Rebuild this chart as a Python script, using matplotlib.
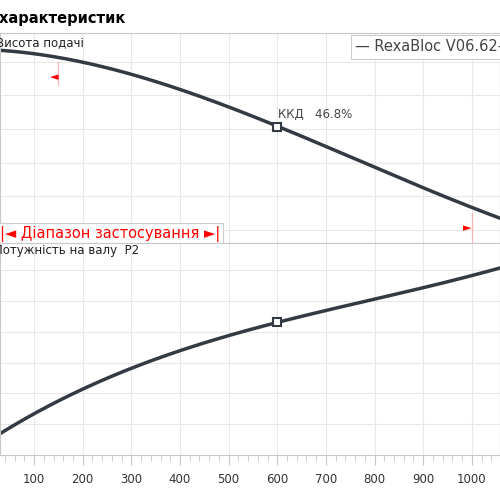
import numpy as np
import matplotlib.pyplot as plt

# flow (m3/h) and read-off curve values (grid units)
flow_h = [30, 133, 236, 338, 441, 600, 784, 920, 1058]
head = [6.36, 6.15, 5.85, 5.52, 4.96, 4.07, 3.00, 2.10, 1.36]
flow_p = [30, 133, 236, 338, 441, 600, 714, 920, 1058]
power = [0.75, 1.56, 2.34, 3.02, 3.67, 4.32, 4.80, 5.36, 6.14]
duty_flow = 600
duty_head = 4.07
duty_power = 4.32
range_lo, range_hi = 150, 1000
xticks = [100, 200, 300, 400, 500, 600, 700, 800, 900, 1000]

curve_c = '#343a44'
grid_c = '#e8e8e8'


def smooth(x, y):
    # quadratic fit through the read-off points, just for a clean line
    c = np.polyfit(x, y, 3)
    xs = np.linspace(x[0], x[-1], 200)
    return xs, np.polyval(c, xs)


fig = plt.figure(figsize=(5, 5), dpi=100)
ax1 = fig.add_axes([0, 0.514, 1, 0.42])
ax2 = fig.add_axes([0, 0.09, 1, 0.424])

for ax in (ax1, ax2):
    ax.set_xlim(30, 1058)
    ax.set_xticks(xticks)
    ax.set_xticks(np.arange(40, 1060, 20), minor=True)
    ax.grid(True, color=grid_c, lw=0.8)
    for s in ax.spines.values():
        s.set_color('#c8c8c8')
    ax.tick_params(axis='y', left=False, labelleft=False)

ax1.set_ylim(0.61, 6.86)
ax1.set_yticks([1, 2, 3, 4, 5, 6])
ax1.tick_params(axis='x', bottom=False, labelbottom=False, which='both')
ax2.set_ylim(0, 6.88)
ax2.set_yticks([1, 2, 3, 4, 5, 6])
ax2.tick_params(axis='x', which='both', colors='#c8c8c8', labelcolor='#333333',
                labelsize=8.5, length=7, direction='out', pad=6)
ax2.tick_params(axis='x', which='minor', length=4)

ax1.plot(*smooth(flow_h, head), color=curve_c, lw=2.5)
ax1.plot([duty_flow], [duty_head], 's', mfc='white', mec=curve_c, mew=1.5, ms=6)
ax1.text(duty_flow + 2, duty_head + 0.25, 'ККД   46.8%', fontsize=8.5, color='#444444')
ax2.plot(*smooth(flow_p, power), color=curve_c, lw=2.5)
ax2.plot([duty_flow], [duty_power], 's', mfc='white', mec=curve_c, mew=1.5, ms=6)

# operating range markers
ax1.plot([range_lo, range_lo], [5.3, 6.0], color='#ffb0b0', lw=0.8)
ax1.text(range_lo, 5.55, '◄', color='red', fontsize=8, ha='right', va='center')
ax1.plot([range_hi, range_hi], [0.61, 1.5], color='#ffb0b0', lw=0.8)
ax1.text(range_hi, 1.05, '►', color='red', fontsize=8, ha='right', va='center')

ax1.text(-0.008, 0.955, 'Висота подачі', transform=ax1.transAxes, fontsize=8.5,
         va='center', color='#222222')
ax2.text(-0.012, 0.965, 'Потужність на валу  P2', transform=ax2.transAxes, fontsize=8.5,
         va='center', color='#222222')
ax1.text(0.0, 0.045, '|◄ Діапазон застосування ►|', transform=ax1.transAxes,
         fontsize=10.5, color='red', va='center',
         bbox=dict(boxstyle='square,pad=0.2', fc='white', ec='#cccccc', lw=0.8))
ax1.text(0.71, 0.935, '— RexaBloc V06.62-1', transform=ax1.transAxes, fontsize=10.5,
         color='#444444', va='center',
         bbox=dict(boxstyle='square,pad=0.3', fc='white', ec='#cccccc', lw=0.8))

fig.text(0.25, 0.963, 'Поле характеристик', fontsize=10.5, fontweight='bold', ha='right',
         va='center')

fig.savefig('out.png', dpi=100)
